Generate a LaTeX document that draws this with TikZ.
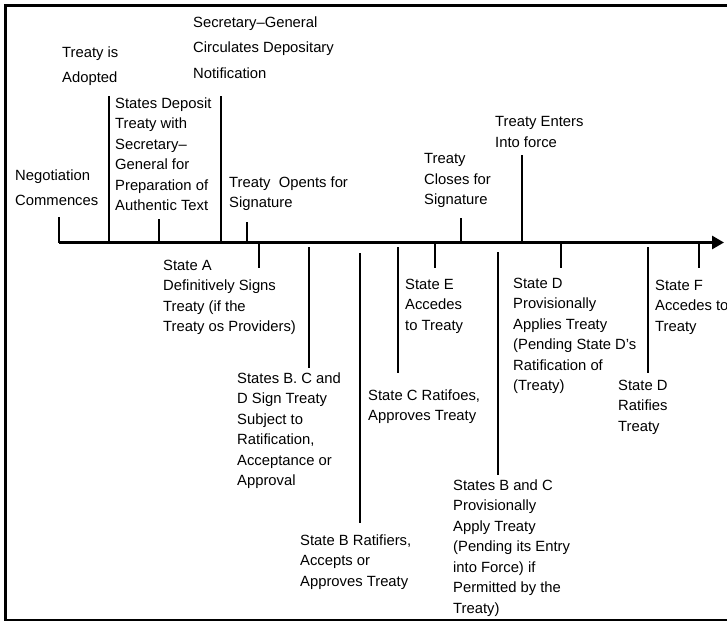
\documentclass[tikz,border=0pt]{standalone}
\usepackage{fontspec}
\setmainfont{Liberation Sans}
\usetikzlibrary{arrows.meta}

\begin{document}
\begin{tikzpicture}[x=1pt,y=-1pt,
  lbl/.style={anchor=north west,inner sep=0pt,align=left,font=\fontsize{14.8}{20.5}\selectfont},
  wide/.style={lbl,font=\fontsize{14.8}{25.5}\selectfont},
  tick/.style={line width=1.8pt},
  axis/.style={line width=2.8pt,-{Triangle[length=12pt,width=13pt]}}
]
\useasboundingbox (0,0) rectangle (727,622);
\draw[line width=2.4pt] (5.5,5.5) rectangle (760,620);

% labels above the line
\node[wide] (negot) at (15,169.5) {Negotiation\\Commences};
\node[wide] (adopt) at (62,46.5) {Treaty is\\Adopted};
\node[lbl] (deposit) at (115,97.5) {States Deposit\\Treaty with\\Secretary--\\General for\\Preparation of\\Authentic Text};
\node[wide] (secgen) at (193,16.5) {Secretary--General\\Circulates Depositary\\Notification};
\node[lbl] (opens) at (229,176.5) {Treaty~ Opents for\\Signature};
\node[lbl] (closes) at (424,153.5) {Treaty\\Closes for\\Signature};
\node[lbl] (enters) at (495,116.5) {Treaty Enters\\Into force};

% labels below the line
\node[lbl] (stateA) at (163,259.5) {State A\\Definitively Signs\\Treaty (if the\\Treaty os Providers)};
\node[lbl] (statesBCD) at (237,372.5) {States B. C and\\D Sign Treaty\\Subject to\\Ratification,\\Acceptance or\\Approval};
\node[lbl] (stateBrat) at (300,534.5) {State B Ratifiers,\\Accepts or\\Approves Treaty};
\node[lbl] (stateCrat) at (368,389.5) {State C Ratifoes,\\Approves Treaty};
\node[lbl] (stateEacc) at (405,278.5) {State E\\Accedes\\to Treaty};
\node[lbl] (statesBCprov) at (453,479.5) {States B and C\\Provisionally\\Apply Treaty\\(Pending its Entry\\into Force) if\\Permitted by the\\Treaty)};
\node[lbl] (stateDprov) at (513,277.5) {State D\\Provisionally\\Applies Treaty\\(Pending State D's\\Ratification of\\(Treaty)};
\node[lbl] (stateDrat) at (618,379.5) {State D\\Ratifies\\Treaty};
\node[lbl] (stateFacc) at (655,279.5) {State F\\Accedes to\\Treaty};

% time line
\coordinate (origin) at (59,242.5);
\coordinate (tip) at (724,242.5);
\draw[axis] (origin) -- (tip);

\coordinate (adoptT) at (109,242.5);
\coordinate (depositT) at (159,242.5);
\coordinate (secgenT) at (221,242.5);
\coordinate (opensT) at (247,242.5);
\coordinate (closesT) at (461,242.5);
\coordinate (entersT) at (522,242.5);
\coordinate (stateAT) at (259,242.5);
\coordinate (statesBCDT) at (309,247);
\coordinate (stateBratT) at (360,253);
\coordinate (stateCratT) at (398,247);
\coordinate (stateEaccT) at (435,242.5);
\coordinate (statesBCprovT) at (498,252);
\coordinate (stateDprovT) at (561,242.5);
\coordinate (stateDratT) at (648,247);
\coordinate (stateFaccT) at (699,242.5);

\draw[tick] (origin) -- ++(0,-25.5);
\draw[tick] (adoptT) -- ++(0,-146.5);
\draw[tick] (depositT) -- ++(0,-23.5);
\draw[tick] (secgenT) -- ++(0,-146.5);
\draw[tick] (opensT) -- ++(0,-20.5);
\draw[tick] (closesT) -- ++(0,-24.5);
\draw[tick] (entersT) -- ++(0,-87.5);
\draw[tick] (stateAT) -- ++(0,25.5);
\draw[tick] (statesBCDT) -- ++(0,121);
\draw[tick] (stateBratT) -- ++(0,270);
\draw[tick] (stateCratT) -- ++(0,126);
\draw[tick] (stateEaccT) -- ++(0,25.5);
\draw[tick] (statesBCprovT) -- ++(0,223);
\draw[tick] (stateDprovT) -- ++(0,25.5);
\draw[tick] (stateDratT) -- ++(0,126);
\draw[tick] (stateFaccT) -- ++(0,25.5);
\end{tikzpicture}
\end{document}
